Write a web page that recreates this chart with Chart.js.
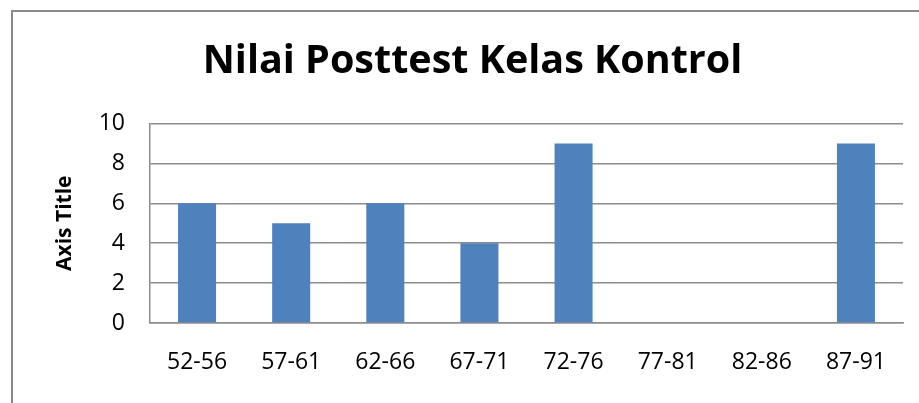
<!DOCTYPE html>
<html>
<head>
<meta charset="utf-8">
<script src="https://cdn.jsdelivr.net/npm/chart.js@4"></script>
<style>
  html, body { margin: 0; padding: 0; background: #fff; overflow: hidden; }
  #wrap { position: relative; width: 919px; height: 403px; }
  #frame { position: absolute; left: 11px; top: 10px; width: 1000px; height: 500px;
           border-left: 2px solid #898989; border-top: 2px solid #898989; }
  canvas { position: absolute; left: 0; top: 0; }
</style>
</head>
<body>
<div id="wrap">
  <div id="frame"></div>
  <canvas id="c" width="919" height="403"></canvas>
</div>
<script>
const chartTitle = "Nilai Posttest Kelas Kontrol";
const yAxisTitle = "Axis Title";
const categories = ["52-56", "57-61", "62-66", "67-71", "72-76", "77-81", "82-86", "87-91"];
const values = [6, 5, 6, 4, 9, 0, 0, 9];
const yMin = 0, yMax = 10, yStep = 2;

const gridColor = '#8c8c8c';
const fontFamily = "'Open Sans', 'Noto Sans', sans-serif";

// Shift the title's box so it centres where the reference title sits.
const titleShift = {
  id: 'titleShift',
  afterLayout(chart) {
    const t = chart.titleBlock;
    if (t) { t.left = 42; t.right = 903; }
  }
};

new Chart(document.getElementById('c'), {
  type: 'bar',
  data: {
    labels: categories,
    datasets: [{
      data: values,
      backgroundColor: '#4F81BD',
      borderWidth: 0,
      categoryPercentage: 1.0,
      barPercentage: 0.404
    }]
  },
  plugins: [titleShift],
  options: {
    responsive: false,
    animation: false,
    events: [],
    layout: { padding: { left: 0, right: 16, top: 0, bottom: 0 } },
    plugins: {
      legend: { display: false },
      tooltip: { enabled: false },
      title: {
        display: true,
        text: chartTitle,
        color: '#000',
        font: { family: fontFamily, size: 39.5, weight: 'bold', lineHeight: 1.2 },
        padding: { top: 38.5, bottom: 37.6 }
      }
    },
    scales: {
      x: {
        grid: { display: false, drawTicks: false },
        border: { display: true, color: gridColor, width: 1.5 },
        ticks: { color: '#000', font: { family: fontFamily, size: 23 }, padding: 26, maxRotation: 0, autoSkip: false },
        afterFit: (s) => { s.height = 80; }
      },
      y: {
        min: yMin, max: yMax,
        grid: { color: gridColor, lineWidth: 1.5, drawTicks: false },
        border: { display: true, color: gridColor, width: 1.5 },
        ticks: { stepSize: yStep, color: '#000', font: { family: fontFamily, size: 23 }, padding: 25 },
        title: {
          display: true, text: yAxisTitle, color: '#000',
          font: { family: fontFamily, size: 21, weight: 'bold', lineHeight: 1.2 },
          padding: { top: 52, bottom: 0 }
        },
        afterFit: (s) => { s.width = 150; }
      }
    }
  }
});
</script>
</body>
</html>
